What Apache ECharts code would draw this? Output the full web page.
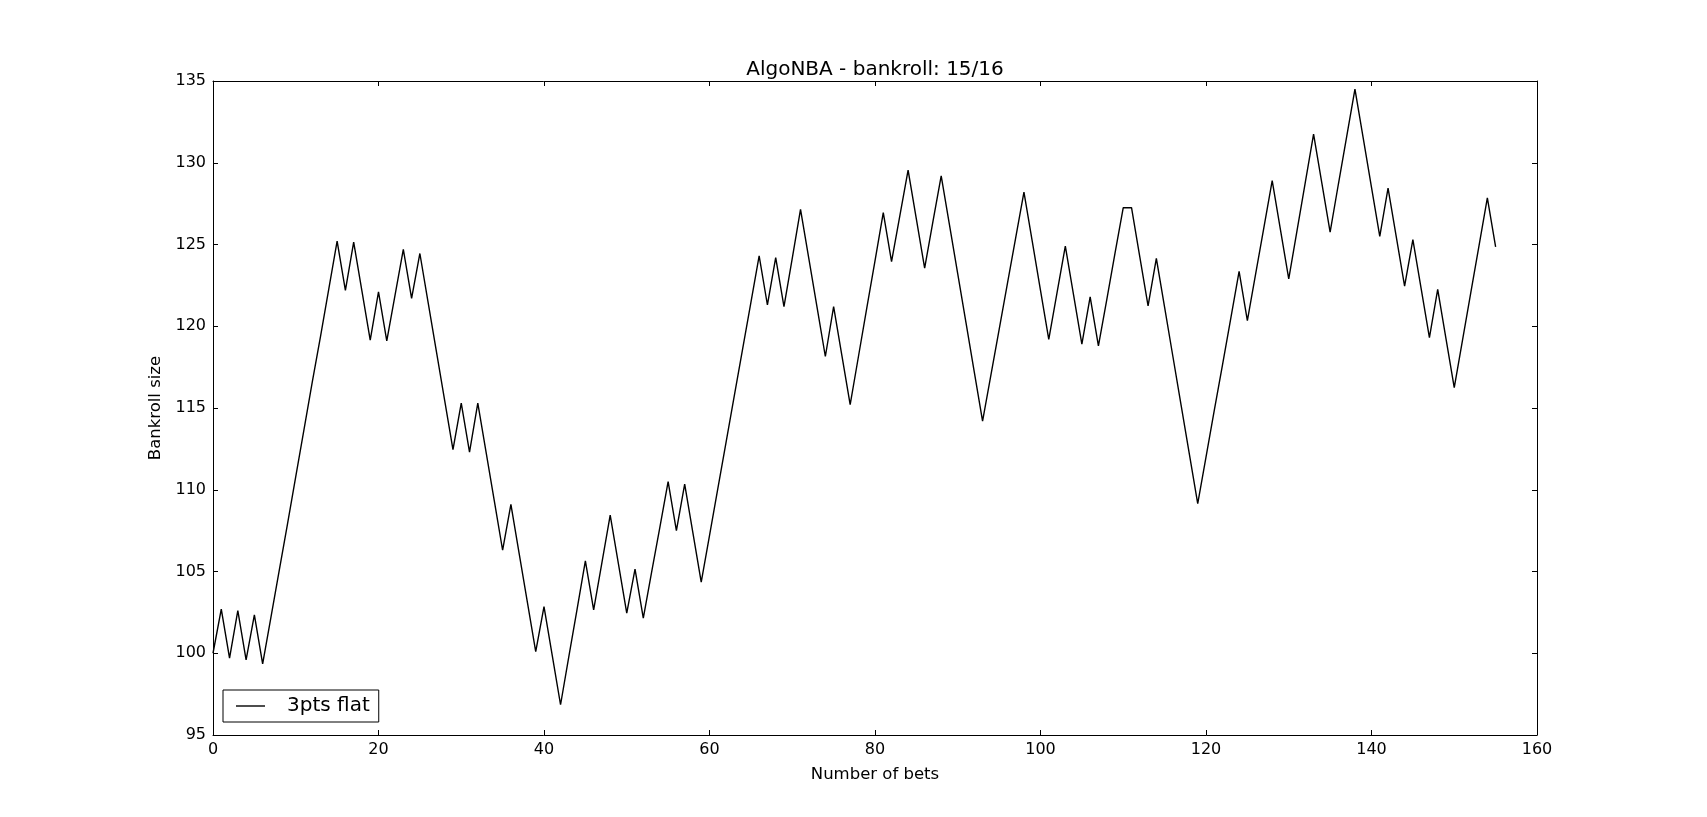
<!DOCTYPE html>
<html>
<head>
<meta charset="utf-8">
<script src="https://cdn.jsdelivr.net/npm/echarts@6/dist/echarts.min.js"></script>
<style>
html,body{margin:0;padding:0;background:#fff;}
#chart{width:1707px;height:817px;}
</style>
</head>
<body>
<div id="chart"></div>
<script>
const titleText = "AlgoNBA - bankroll: 15/16";
const xName = "Number of bets";
const yName = "Bankroll size";
const seriesName = "3pts flat";
const xMin = 0, xMax = 160, xStep = 20;
const yMin = 95, yMax = 135, yStep = 5;
const bankroll = [
  100, 102.7, 99.7, 102.6, 99.6, 102.35, 99.35, 102.2, 105.05, 107.9,
  110.8, 113.7, 116.6, 119.4, 122.3, 125.2, 122.2, 125.15, 122.15, 119.15,
  122.1, 119.1, 121.9, 124.7, 121.7, 124.45, 121.45, 118.45, 115.45, 112.45,
  115.3, 112.3, 115.3, 112.3, 109.3, 106.3, 109.1, 106.1, 103.1, 100.1,
  102.85, 99.85, 96.85, 99.8, 102.7, 105.65, 102.65, 105.55, 108.45, 105.45,
  102.45, 105.15, 102.15, 104.95, 107.7, 110.5, 107.5, 110.35, 107.35, 104.35,
  107.2, 110.05, 112.9, 115.75, 118.6, 121.45, 124.3, 121.3, 124.2, 121.2,
  124.15, 127.15, 124.15, 121.15, 118.15, 121.2, 118.2, 115.2, 118.15, 121.1,
  124.0, 126.95, 123.95, 126.75, 129.55, 126.55, 123.55, 126.4, 129.2, 126.2,
  123.2, 120.2, 117.2, 114.2, 117.0, 119.8, 122.6, 125.4, 128.2, 125.2,
  122.2, 119.2, 122.05, 124.9, 121.9, 118.9, 121.8, 118.8, 121.6, 124.45,
  127.25, 127.25, 124.25, 121.25, 124.15, 121.15, 118.15, 115.15, 112.15, 109.15,
  112.0, 114.85, 117.65, 120.5, 123.35, 120.35, 123.2, 126.05, 128.9, 125.9,
  122.9, 125.85, 128.8, 131.75, 128.75, 125.75, 128.7, 131.6, 134.5, 131.5,
  128.5, 125.5, 128.45, 125.45, 122.45, 125.3, 122.3, 119.3, 122.25, 119.25,
  116.25, 119.15, 122.05, 124.95, 127.85, 124.85
];
const betNumbers = bankroll.map((_, i) => i);
const seriesData = betNumbers.map((b, i) => [b, bankroll[i]]);

const font = "'DejaVu Sans', sans-serif";
const chart = echarts.init(document.getElementById('chart'), null, {renderer: 'canvas'});

const axisCommon = {
  axisLine: {show: true, onZero: false, lineStyle: {color: '#000', width: 1}},
  axisTick: {show: true, inside: true, length: 5, lineStyle: {color: '#000', width: 1}},
  splitLine: {show: false}
};

chart.setOption({
  animation: false,
  backgroundColor: '#fff',
  title: {
    text: titleText,
    left: 870, top: 55, textAlign: 'center',
    textStyle: {fontFamily: font, fontSize: 20, fontWeight: 'normal', color: '#000'}
  },
  legend: {
    data: [{name: seriesName, icon: 'rect'}],
    left: 223, top: 690,
    orient: 'vertical',
    itemWidth: 29, itemHeight: 1.4,
    itemGap: 0,
    padding: [6, 9, 6, 13],
    borderColor: '#000', borderWidth: 1,
    textStyle: {fontFamily: font, fontSize: 20, color: '#000', padding: [0, 0, 0, 17]}
  },
  grid: {left: 213, top: 81, width: 1324, height: 654, containLabel: false},
  xAxis: [
    Object.assign({
      type: 'value', min: xMin, max: xMax, interval: xStep, position: 'bottom',
      name: xName, nameLocation: 'middle', nameGap: 31,
      nameTextStyle: {fontFamily: font, fontSize: 16.5, color: '#000'},
      axisLabel: {fontFamily: font, fontSize: 16, color: '#000', margin: 7}
    }, axisCommon),
    Object.assign({
      type: 'value', min: xMin, max: xMax, interval: xStep, position: 'top',
      axisLabel: {show: false}
    }, axisCommon)
  ],
  yAxis: [
    Object.assign({
      type: 'value', min: yMin, max: yMax, interval: yStep, position: 'left',
      name: yName, nameLocation: 'middle', nameGap: 37, nameRotate: 90,
      nameTextStyle: {fontFamily: font, fontSize: 16.5, color: '#000'},
      axisLabel: {fontFamily: font, fontSize: 16, color: '#000', margin: 7}
    }, axisCommon),
    Object.assign({
      type: 'value', min: yMin, max: yMax, interval: yStep, position: 'right',
      axisLabel: {show: false}
    }, axisCommon)
  ],
  series: [{
    name: seriesName,
    type: 'line',
    xAxisIndex: 0, yAxisIndex: 0,
    data: seriesData,
    showSymbol: false,
    symbol: 'none',
    lineStyle: {color: '#000', width: 1.4},
    itemStyle: {color: '#000'}
  }]
});
</script>
</body>
</html>
